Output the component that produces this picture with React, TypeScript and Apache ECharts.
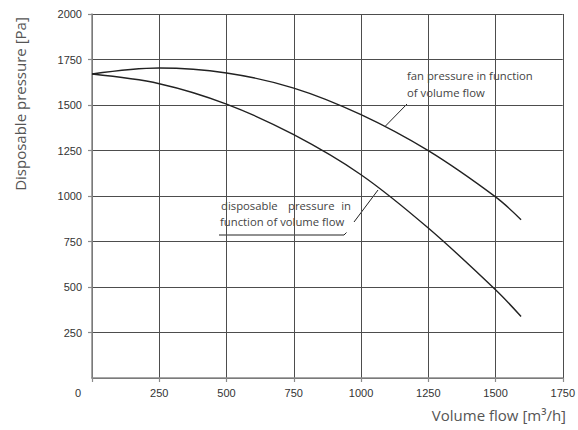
import React, { useEffect, useRef } from "react";
import * as echarts from "echarts";

const flowPoints = [0, 250, 500, 750, 1000, 1250, 1500, 1595];
const fanPressure = [1670, 1703, 1676, 1593, 1447, 1249, 995, 870];
const disposablePressure = [1670, 1617, 1505, 1337, 1117, 824, 485, 338];

const xTicks = [0, 250, 500, 750, 1000, 1250, 1500, 1750];
const yTicks = [0, 250, 500, 750, 1000, 1250, 1500, 1750, 2000];

const xTitle = "Volume flow [m³/h]";
const yTitle = "Disposable pressure [Pa]";
const fanLabel = ["fan pressure in function", "of volume flow"];
const dispLabelWords = ["disposable", "pressure", "in"];
const dispLabelLine2 = "function of volume flow";

const LIGHT = "'Open Sans', 'Noto Sans', sans-serif";
const TICKFONT = "'Liberation Sans', Arial, sans-serif";

export default function App() {
  const ref = useRef<HTMLDivElement>(null);
  useEffect(() => {
    document.body.style.margin = "0";
    if (!ref.current) return;
    const chart = echarts.init(ref.current, undefined, { renderer: "svg" });
    const pair = (ys: number[]) => flowPoints.map((x, i) => [x, ys[i]]);
    const txtStyle = { fill: "#444", fontFamily: LIGHT, fontWeight: "normal" as any, fontSize: 11.3 };
    chart.setOption({
      animation: false,
      backgroundColor: "#ffffff",
      grid: { left: 92, right: 15, top: 14, bottom: 52, containLabel: false },
      xAxis: {
        type: "value",
        min: xTicks[0],
        max: xTicks[xTicks.length - 1],
        interval: 250,
        axisLine: { show: true, lineStyle: { color: "#8a8a8a", width: 1.5 } },
        axisTick: { show: true, inside: false, length: 4, lineStyle: { color: "#8a8a8a", width: 1.2 } },
        splitLine: { show: true, lineStyle: { color: "#4d4d4d", width: 1 } },
        axisLabel: {
          margin: 9,
          color: "#333",
          fontSize: 11,
          fontFamily: TICKFONT,
          showMaxLabel: true,
          formatter: (v: number) => (v === 0 ? "{z|0}" : String(v)),
          rich: { z: { padding: [0, 28, 0, 0], fontSize: 11, fontFamily: TICKFONT, color: "#333" } },
        },
      },
      yAxis: {
        type: "value",
        min: yTicks[0],
        max: yTicks[yTicks.length - 1],
        interval: 250,
        axisLine: { show: true, lineStyle: { color: "#8a8a8a", width: 1.5 } },
        axisTick: { show: true, inside: false, length: 4, lineStyle: { color: "#8a8a8a", width: 1.2 } },
        splitLine: { show: true, lineStyle: { color: "#4d4d4d", width: 1 } },
        axisLabel: {
          margin: 10,
          color: "#333",
          fontSize: 11,
          fontFamily: TICKFONT,
          showMinLabel: false,
          formatter: (v: number) => String(v),
        },
      },
      series: [
        {
          name: "fan pressure in function of volume flow",
          type: "line",
          data: pair(fanPressure),
          smooth: 0.35,
          showSymbol: false,
          lineStyle: { color: "#222", width: 1.4 },
        },
        {
          name: "disposable pressure in function of volume flow",
          type: "line",
          data: pair(disposablePressure),
          smooth: 0.35,
          showSymbol: false,
          lineStyle: { color: "#222", width: 1.4 },
        },
      ],
      graphic: [
        {
          type: "text",
          x: 20,
          y: 104,
          rotation: Math.PI / 2,
          style: {
            text: yTitle,
            fill: "#555",
            fontFamily: LIGHT,
            fontWeight: "normal",
            fontSize: 15,
            align: "center",
            verticalAlign: "middle",
          },
        },
        {
          type: "text",
          x: 566,
          y: 415,
          style: {
            text: xTitle,
            fill: "#555",
            fontFamily: LIGHT,
            fontWeight: "normal",
            fontSize: 15,
            align: "right",
            verticalAlign: "middle",
          },
        },
        { type: "text", x: 407, y: 75, style: { ...txtStyle, text: fanLabel[0], align: "left", verticalAlign: "middle" } },
        { type: "text", x: 407, y: 92, style: { ...txtStyle, text: fanLabel[1], align: "left", verticalAlign: "middle" } },
        { type: "line", shape: { x1: 385, y1: 126.5, x2: 407, y2: 104 }, style: { stroke: "#222", lineWidth: 1 } },
        { type: "text", x: 221, y: 205, style: { ...txtStyle, text: dispLabelWords[0], align: "left", verticalAlign: "middle" } },
        { type: "text", x: 288, y: 205, style: { ...txtStyle, text: dispLabelWords[1], align: "left", verticalAlign: "middle" } },
        { type: "text", x: 351, y: 205, style: { ...txtStyle, text: dispLabelWords[2], align: "right", verticalAlign: "middle" } },
        { type: "text", x: 220, y: 221.5, style: { ...txtStyle, text: dispLabelLine2, align: "left", verticalAlign: "middle" } },
        { type: "line", shape: { x1: 354, y1: 222, x2: 378, y2: 190 }, style: { stroke: "#222", lineWidth: 1 } },
        {
          type: "polyline",
          shape: { points: [[219, 235], [344, 235], [346.5, 232.5]] },
          style: { stroke: "#222", lineWidth: 1, fill: "none" },
        },
      ],
    });
    return () => chart.dispose();
  }, []);
  return <div ref={ref} style={{ width: 578, height: 430 }} />;
}
